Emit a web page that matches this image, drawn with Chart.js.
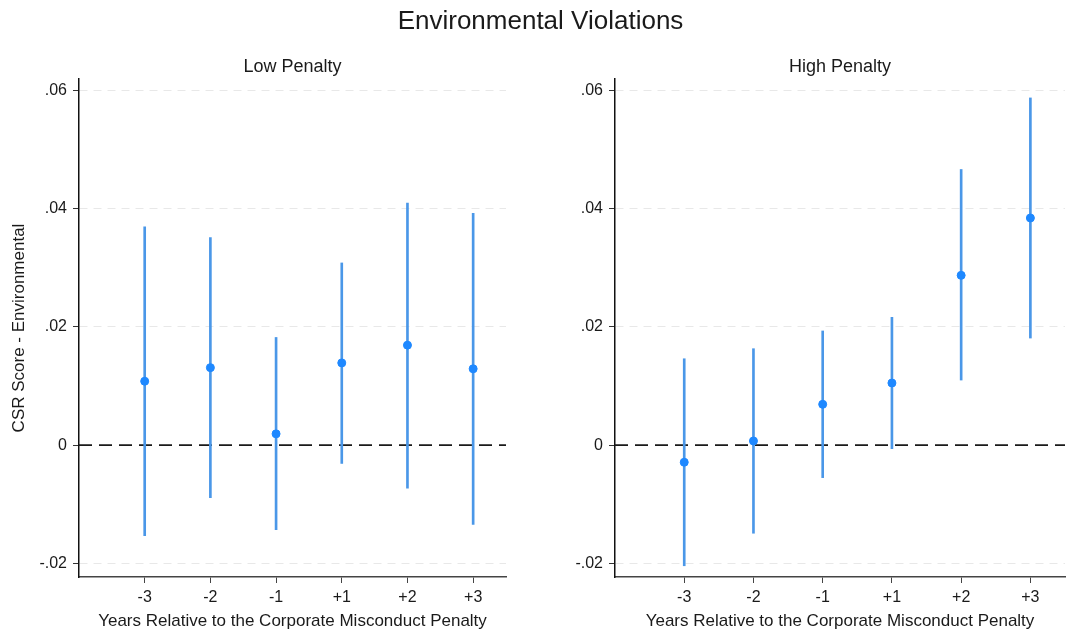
<!DOCTYPE html>
<html>
<head>
<meta charset="utf-8">
<script src="https://cdn.jsdelivr.net/npm/chart.js@4"></script>
<style>
  body { margin: 0; background: #fff; }
  #wrap { position: relative; width: 1072px; height: 632px; overflow: hidden; }
  .lbl { position: absolute; text-align: center; font-family: "Liberation Sans", Arial, sans-serif;
         color: #1a1a1a; white-space: nowrap; z-index: 2; }
  #title { left: 0; top: 5px; width: 1081px; font-size: 26px; }
  #tLow { left: 79px; top: 56px; width: 427px; font-size: 18px; }
  #tHigh { left: 615px; top: 56px; width: 450px; font-size: 18px; }
  canvas { position: absolute; top: 0; }
</style>
</head>
<body>
<div id="wrap">
  <div id="title" class="lbl">Environmental Violations</div>
  <div id="tLow" class="lbl">Low Penalty</div>
  <div id="tHigh" class="lbl">High Penalty</div>
  <canvas id="low" width="536" height="632" style="left:0"></canvas>
  <canvas id="high" width="536" height="632" style="left:536px"></canvas>
</div>
<script>
// years around the penalty
const years = ['-3', '-2', '-1', '+1', '+2', '+3'];
const xPos = [1, 2, 3, 4, 5, 6];

// low penalty: estimate + 95% CI
const lowEst = [0.0108, 0.0131, 0.0019, 0.0139, 0.0169, 0.0129];
const lowLo  = [-0.0153, -0.0089, -0.0143, -0.0031, -0.0073, -0.0134];
const lowHi  = [0.0369, 0.0351, 0.0182, 0.0308, 0.0409, 0.0392];

// high penalty
const highEst = [-0.0029, 0.0007, 0.0069, 0.0105, 0.0287, 0.0384];
const highLo  = [-0.0204, -0.0149, -0.0055, -0.0006, 0.0110, 0.0181];
const highHi  = [0.0146, 0.0163, 0.0193, 0.0216, 0.0466, 0.0587];

const yTicks = [-0.02, 0, 0.02, 0.04, 0.06];
const yTickLabels = ['-.02', '0', '.02', '.04', '.06'];

const FONT = '"Liberation Sans", Arial, sans-serif';
const TXT = '#1a1a1a';

function makePanel(id, est, lo, hi, showYTitle, padRight) {
  const ctx = document.getElementById(id).getContext('2d');
  return new Chart(ctx, {
    type: 'bar',
    data: {
      datasets: [
        {
          type: 'line',
          data: [{x: 0, y: 0}, {x: 6.5, y: 0}],
          borderColor: '#1a1a1a',
          borderWidth: 1.6,
          borderDash: [13, 7],
          pointRadius: 0,
          order: 3
        },
        {
          type: 'bar',
          data: xPos.map((x, i) => ({x: x, y: [lo[i], hi[i]]})),
          backgroundColor: '#4a97e8',
          borderWidth: 0,
          barThickness: 2,
          order: 2
        },
        {
          type: 'scatter',
          data: xPos.map((x, i) => ({x: x, y: est[i]})),
          backgroundColor: '#1e88ff',
          borderColor: '#1e88ff',
          pointRadius: 4,
          order: 1
        }
      ]
    },
    options: {
      responsive: false,
      animation: false,
      layout: { padding: { left: 0, right: padRight, top: 79, bottom: 0 } },
      plugins: {
        legend: { display: false },
        tooltip: { enabled: false }
      },
      scales: {
        x: {
          type: 'linear',
          min: 0,
          max: 6.5,
          offset: false,
          afterBuildTicks: (s) => { s.ticks = xPos.map(v => ({value: v})); },
          afterFit: (s) => { s.height = 55; },
          ticks: {
            color: TXT,
            padding: 5,
            font: { family: FONT, size: 16 },
            callback: (v) => years[xPos.indexOf(v)]
          },
          grid: { offset: false, drawOnChartArea: false, tickLength: 6, tickColor: '#444' },
          border: { color: '#444', width: 1.5 },
          title: {
            display: true,
            text: 'Years Relative to the Corporate Misconduct Penalty',
            color: TXT,
            font: { family: FONT, size: 17 },
            padding: { top: 0, bottom: 0 }
          }
        },
        y: {
          min: -0.0223,
          max: 0.0619,
          afterBuildTicks: (s) => { s.ticks = yTicks.map(v => ({value: v})); },
          afterFit: (s) => { s.width = 79; },
          ticks: {
            color: TXT,
            padding: 6,
            font: { family: FONT, size: 16 },
            callback: (v) => yTickLabels[yTicks.indexOf(v)]
          },
          grid: {
            color: (c) => (c.tick && c.tick.value === 0) ? 'rgba(0,0,0,0)' : '#e8e8e8',
            lineWidth: 1,
            tickLength: 6,
            tickColor: '#333',
            tickBorderDash: []
          },
          border: { color: '#111', width: 1.5, dash: [8, 6] },
          title: {
            display: showYTitle,
            text: 'CSR Score - Environmental',
            color: TXT,
            font: { family: FONT, size: 17 },
            padding: { top: 9, bottom: 0 }
          }
        }
      }
    }
  });
}

makePanel('low', lowEst, lowLo, lowHi, true, 30);
makePanel('high', highEst, highLo, highHi, false, 7);
</script>
</body>
</html>
